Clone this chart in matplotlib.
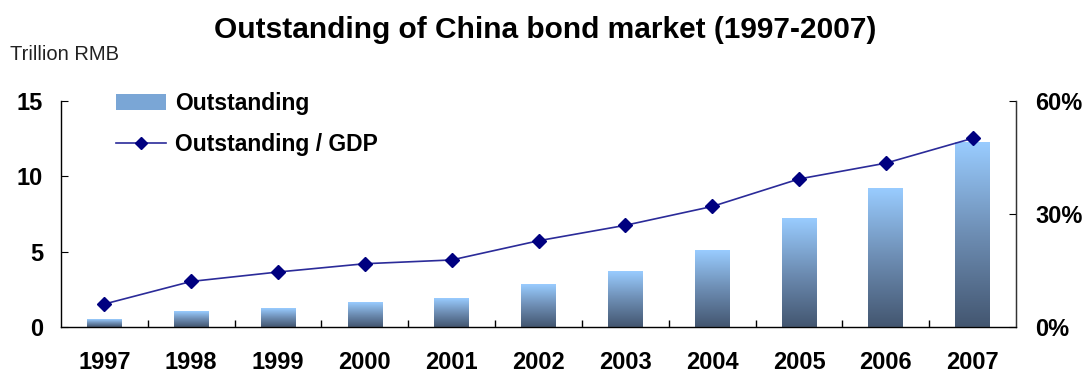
import numpy as np
import matplotlib.pyplot as plt
from matplotlib.patches import Patch
from matplotlib.lines import Line2D
from matplotlib.colors import LinearSegmentedColormap

plt.rcParams['font.family'] = ['Liberation Sans', 'DejaVu Sans']

years = ['1997', '1998', '1999', '2000', '2001', '2002', '2003', '2004', '2005', '2006', '2007']
outstanding = [0.51, 1.0, 1.24, 1.64, 1.88, 2.79, 3.67, 5.06, 7.23, 9.18, 12.23]
ratio_gdp = [6.1, 12.1, 14.6, 16.8, 17.8, 22.9, 27.0, 32.0, 39.3, 43.5, 50.1]

fig = plt.figure(figsize=(10.91, 3.78), dpi=100)
ax = fig.add_axes([0.0559, 0.1349, 0.8754, 0.5979])
x = np.arange(len(years))

# gradient bars: light blue on top, dark slate at the bottom
grad = np.linspace(0, 1, 256).reshape(-1, 1)
cmap = LinearSegmentedColormap.from_list('bar', ['#435670', '#6d8db3', '#99ccff'])
bars = ax.bar(x, outstanding, width=0.4, color='none', edgecolor='none', zorder=2)
for b in bars:
    ax.imshow(grad, cmap=cmap, aspect='auto', origin='lower', zorder=2,
              extent=[b.get_x(), b.get_x() + b.get_width(), 0, b.get_height()])

ax.set_xlim(-0.5, len(years) - 0.5)
ax.set_ylim(0, 15)
ax.set_yticks([0, 5, 10, 15])
ax.set_xticks(x)
ax.set_xticklabels(years)
ax.set_xticks(np.arange(0.5, len(years) - 1, 1), minor=True)
ax.tick_params(axis='x', which='major', length=0, pad=17, labelsize=17)
ax.tick_params(axis='x', which='minor', direction='in', length=5, width=1)
ax.tick_params(axis='y', direction='in', length=5, pad=13, labelsize=17)
for lab in ax.get_xticklabels() + ax.get_yticklabels():
    lab.set_fontweight('bold')
ax.spines['top'].set_visible(False)
for s in ['left', 'right', 'bottom']:
    ax.spines[s].set_linewidth(1.0)
    ax.spines[s].set_color('#333333')

ax2 = ax.twinx()
ax2.plot(x, ratio_gdp, color='#2b2b99', lw=1.2, marker='D', ms=7,
         mfc='#000080', mec='#000080', zorder=3)
ax2.set_ylim(0, 60)
ax2.set_yticks([0, 30, 60])
ax2.set_yticklabels(['0%', '30%', '60%'])
ax2.tick_params(axis='y', direction='in', length=5, pad=14, labelsize=17)
for lab in ax2.get_yticklabels():
    lab.set_fontweight('bold')
ax2.spines['top'].set_visible(False)
ax2.spines['right'].set_color('#333333')

fig.text(0.5, 0.92, 'Outstanding of China bond market (1997-2007)',
         ha='center', va='center', fontsize=21.5, fontweight='bold')
fig.text(0.009, 0.855, 'Trillion RMB', ha='left', va='center', fontsize=14.5, color='#222222')

handles = [Patch(facecolor='#7aa6d6', edgecolor='none'),
           Line2D([], [], color='#2b2b99', lw=1.2, marker='D', ms=6, mfc='#000080', mec='#000080')]
fig.legend(handles, ['Outstanding', 'Outstanding / GDP'], loc='upper left',
           bbox_to_anchor=(0.087, 0.81), frameon=False,
           prop={'weight': 'bold', 'size': 16.5}, handlelength=2.2,
           handletextpad=0.4, labelspacing=0.75)

fig.savefig('out.png', dpi=100)
